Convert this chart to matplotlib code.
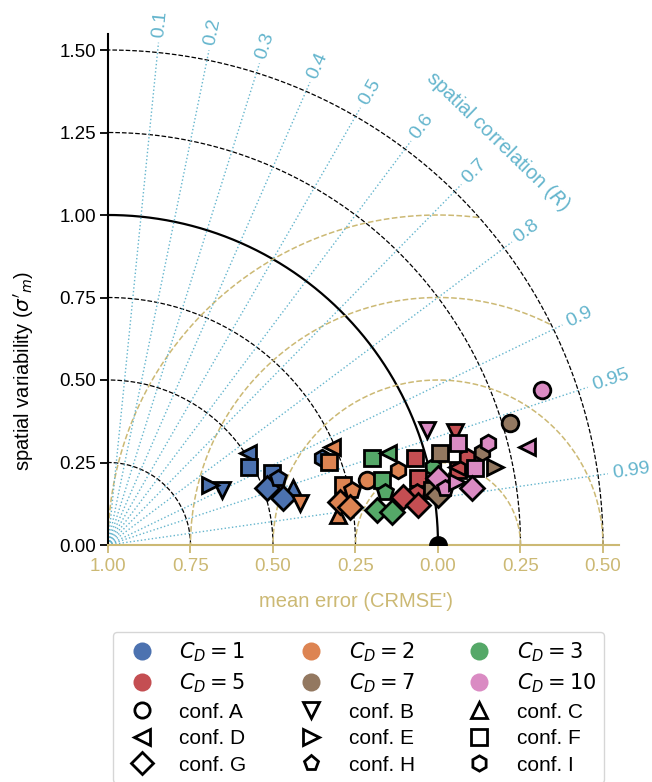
import numpy as np
import matplotlib.pyplot as plt
from matplotlib.lines import Line2D

plt.rcParams['font.family'] = ['Liberation Sans', 'DejaVu Sans']

# drag coefficient groups and configurations
cd_values = [1, 2, 3, 5, 7, 10]
cd_colors = ['#4C72B0', '#DD8452', '#55A868', '#C44E52', '#937860', '#DA8BC3']
conf_names = ['A', 'B', 'C', 'D', 'E', 'F', 'G', 'H', 'I']
conf_markers = ['o', 'v', '^', '<', '>', 's', 'D', 'p', 'h']

# model points, normalised (x from the origin, y = spatial variability)
pt_cd = [1, 1, 1, 1, 1, 1, 1, 1, 1, 1, 1,
         2, 2, 2, 2, 2, 2, 2, 2, 2, 2,
         3, 3, 3, 3, 3, 3, 3,
         5, 5, 5, 5, 5, 5, 5, 5, 5,
         7, 7, 7, 7, 7, 7,
         10, 10, 10, 10, 10, 10, 10, 10, 10, 10]
pt_conf = ['A', 'B', 'E', 'C', 'F', 'D', 'F', 'G', 'H', 'G', 'I',
           'C', 'B', 'F', 'D', 'F', 'H', 'G', 'G', 'A', 'I',
           'F', 'D', 'F', 'H', 'G', 'G', 'I',
           'B', 'F', 'F', 'H', 'G', 'G', 'F', 'D', 'I',
           'F', 'F', 'G', 'I', 'E', 'A',
           'B', 'F', 'I', 'F', 'G', 'G', 'H', 'E', 'D', 'A']
pt_x = [0.506, 0.345, 0.309, 0.561, 0.497, 0.424, 0.427, 0.482, 0.515, 0.530, 0.648,
        0.697, 0.582, 0.670, 0.679, 0.712, 0.739, 0.703, 0.733, 0.785, 0.879,
        0.800, 0.848, 0.830, 0.839, 0.815, 0.861, 0.985,
        1.052, 0.930, 0.939, 0.936, 0.894, 0.939, 1.061, 1.058, 1.088,
        1.006, 0.982, 1.000, 1.133, 1.173, 1.218,
        0.967, 1.061, 1.152, 1.112, 1.103, 1.000, 1.021, 1.058, 1.270, 1.315]
pt_y = [0.182, 0.167, 0.182, 0.173, 0.218, 0.279, 0.236, 0.173, 0.203, 0.142, 0.264,
        0.091, 0.127, 0.252, 0.297, 0.182, 0.167, 0.130, 0.115, 0.197, 0.227,
        0.264, 0.279, 0.197, 0.161, 0.106, 0.100, 0.236,
        0.342, 0.264, 0.203, 0.161, 0.145, 0.121, 0.227, 0.236, 0.267,
        0.279, 0.167, 0.152, 0.282, 0.236, 0.370,
        0.348, 0.309, 0.309, 0.233, 0.173, 0.203, 0.173, 0.191, 0.297, 0.470]

corr_ticks = [0.1, 0.2, 0.3, 0.4, 0.5, 0.6, 0.7, 0.8, 0.9, 0.95, 0.99]
std_arcs = [0.25, 0.5, 0.75, 1.25, 1.5]
crmse_arcs = [0.25, 0.5, 0.75, 1.0]

blue = '#64B5CD'
tan = '#CCB974'

fig = plt.figure(figsize=(6.52, 7.82), dpi=100)
ax = fig.add_axes([108 / 652, 237 / 782, 511.5 / 652, 511.5 / 782])
lim = 1.55
ax.set_xlim(0, lim)
ax.set_ylim(0, lim)

t = np.linspace(0, np.pi / 2, 300)
# standard deviation arcs
for r in std_arcs:
    ax.plot(r * np.cos(t), r * np.sin(t), color='k', ls='--', lw=0.9, zorder=1)
ax.plot(np.cos(t), np.sin(t), color='k', ls='-', lw=1.6, zorder=1)

# centred RMSE arcs around the reference
tt = np.linspace(0, np.pi, 400)
for r in crmse_arcs:
    xs = 1 + r * np.cos(tt)
    ys = r * np.sin(tt)
    mask = np.hypot(xs, ys) > 1.5
    xs = np.where(mask, np.nan, xs)
    ax.plot(xs, ys, color=tan, ls='--', lw=1.1, zorder=1)

# correlation rays and labels
for c in corr_ticks:
    th = np.arccos(c)
    ax.plot([0, 1.53 * np.cos(th)], [0, 1.53 * np.sin(th)], color=blue, ls=':', lw=1.0, zorder=1)
    ax.text(1.545 * np.cos(th), 1.545 * np.sin(th), f'{c:g}', color=blue, fontsize=14,
            rotation=np.degrees(th), rotation_mode='anchor', ha='left', va='center',
            clip_on=False)
ang = np.radians(46)
ax.text(1.70 * np.cos(ang), 1.70 * np.sin(ang), 'spatial correlation ($R$)', color=blue,
        fontsize=14.5, rotation=-44, rotation_mode='anchor', ha='center', va='center')

# reference point
ax.plot(1, 0, 'o', color='k', ms=12.5, zorder=5, clip_on=True)

# model points
for cd, col in zip(cd_values, cd_colors):
    for x, y, k, cf in zip(pt_x, pt_y, pt_cd, pt_conf):
        if k != cd:
            continue
        m = conf_markers[conf_names.index(cf)]
        ax.plot(x, y, ls='', marker=m, ms=12, mfc=col, mec='k', mew=2, zorder=3)

# axes styling
ax.spines['top'].set_visible(False)
ax.spines['right'].set_visible(False)
ax.spines['bottom'].set_color(tan)
ax.spines['bottom'].set_linewidth(1.5)
ax.spines['left'].set_linewidth(1.5)
xt = [0, 0.25, 0.5, 0.75, 1.0, 1.25, 1.5]
ax.set_xticks(xt)
ax.set_xticklabels([f'{abs(1 - v):.2f}' for v in xt])
ax.set_yticks([0, 0.25, 0.5, 0.75, 1.0, 1.25, 1.5])
ax.set_yticklabels([f'{v:.2f}' for v in [0, 0.25, 0.5, 0.75, 1.0, 1.25, 1.5]])
ax.tick_params(axis='x', colors=tan, labelsize=13.5, length=6, width=1.3)
ax.tick_params(axis='y', labelsize=13.5, length=6, width=1.3, pad=2.5)
ax.set_xlabel("mean error (CRMSE')", color=tan, fontsize=14.5)
ax.set_ylabel("spatial variability ($\\sigma'_m$)", fontsize=14.5)
ax.xaxis.set_label_coords(0.484, -0.092)
ax.yaxis.set_label_coords(-0.14, 0.34)

# legend
h_cd = [Line2D([], [], ls='', marker='o', ms=13, mfc=c, mec=c, mew=0) for c in cd_colors]
l_cd = [f'$C_D = {v}$' for v in cd_values]
h_cf = [Line2D([], [], ls='', marker=m, ms=11, mfc='none', mec='k', mew=2) for m in conf_markers]
l_cf = [f'conf. {n}' for n in conf_names]
order_h = [h_cd[0], h_cd[3], h_cf[0], h_cf[3], h_cf[6],
           h_cd[1], h_cd[4], h_cf[1], h_cf[4], h_cf[7],
           h_cd[2], h_cd[5], h_cf[2], h_cf[5], h_cf[8]]
order_l = [l_cd[0], l_cd[3], l_cf[0], l_cf[3], l_cf[6],
           l_cd[1], l_cd[4], l_cf[1], l_cf[4], l_cf[7],
           l_cd[2], l_cd[5], l_cf[2], l_cf[5], l_cf[8]]
ax.legend(order_h, order_l, loc='upper center', bbox_to_anchor=(0.49, -0.15), ncol=3,
          fontsize=15, columnspacing=2.1, handletextpad=0.8, labelspacing=0.36)

fig.savefig('out.png', dpi=100)
